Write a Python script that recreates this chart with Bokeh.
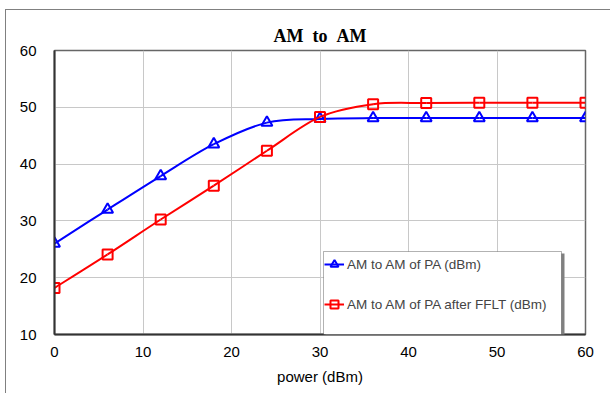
from bokeh.plotting import figure
from bokeh.models import (ColumnDataSource, Legend, LegendItem, BoxAnnotation,
                          FixedTicker, Range1d)
from bokeh.embed import file_html
from bokeh.resources import INLINE

# input power (dBm)
power = [0, 6, 12, 18, 24, 30, 36, 42, 48, 54, 60]
# output power of the PA alone (dBm)
pa_out = [26.0, 32.0, 37.9, 43.5, 47.3, 47.95, 48.1, 48.1, 48.1, 48.1, 48.1]
# output power of the PA after FFLT (dBm)
fflt_out = [18.2, 24.1, 30.25, 36.2, 42.35, 48.3, 50.55, 50.75, 50.8, 50.8, 50.8]

series_names = ["AM to AM of PA (dBm)", "AM to AM of PA after FFLT (dBm)"]
x_ticks = [0, 10, 20, 30, 40, 50, 60]
y_ticks = [10, 20, 30, 40, 50, 60]

FONT = "Liberation Sans"

# the chart area sits inside a thin grey border, offset from the page corner
p = figure(width=605, height=384, output_backend="svg", toolbar_location=None,
           x_range=Range1d(0, 60), y_range=Range1d(10, 60),
           min_border_left=48, min_border_right=26, min_border_top=40,
           min_border_bottom=60)
p.styles = {"margin-left": "5px", "margin-top": "9px",
            "border-left": "1.5px solid #808080",
            "border-top": "1.5px solid #808080"}

p.title.text = "AM\u00a0\u00a0to\u00a0\u00a0AM"
p.title.align = "center"
p.title.text_font = "Liberation Serif"
p.title.text_font_style = "bold"
p.title.text_font_size = "18px"
p.title.text_color = "black"

p.outline_line_color = "#666666"
p.outline_line_width = 1.5

for ax in (p.xaxis[0], p.yaxis[0]):
    ax.axis_line_color = "#333333"
    ax.axis_line_width = 2
    ax.major_tick_in = 0
    ax.major_tick_out = 0
    ax.minor_tick_in = 0
    ax.minor_tick_out = 0
    ax.major_label_text_font = FONT
    ax.major_label_text_font_size = "15px"
    ax.major_label_text_color = "black"

p.xaxis[0].ticker = FixedTicker(ticks=x_ticks)
p.yaxis[0].ticker = FixedTicker(ticks=y_ticks)
p.xaxis[0].major_label_standoff = 12
p.yaxis[0].major_label_standoff = 18
p.xaxis[0].axis_label = "power (dBm)"
p.xaxis[0].axis_label_text_font = FONT
p.xaxis[0].axis_label_text_font_style = "normal"
p.xaxis[0].axis_label_text_font_size = "15px"
p.xaxis[0].axis_label_text_color = "black"
p.xaxis[0].axis_label_standoff = 8

p.xgrid.ticker = FixedTicker(ticks=x_ticks)
p.ygrid.ticker = FixedTicker(ticks=y_ticks)
p.xgrid.grid_line_color = "#c8c8c8"
p.ygrid.grid_line_color = "#c8c8c8"
p.xgrid.grid_line_width = 1
p.ygrid.grid_line_width = 1


def smooth_segments(xs, ys, t=1.0 / 6.0):
    """Cubic Bezier pieces (Catmull-Rom style) passing through every point."""
    n = len(xs)
    seg = dict(x0=[], y0=[], x1=[], y1=[], cx0=[], cy0=[], cx1=[], cy1=[])
    for i in range(n - 1):
        xm, ym = (xs[i - 1], ys[i - 1]) if i > 0 else (xs[i], ys[i])
        xp, yp = (xs[i + 2], ys[i + 2]) if i + 2 < n else (xs[i + 1], ys[i + 1])
        seg["x0"].append(xs[i]); seg["y0"].append(ys[i])
        seg["x1"].append(xs[i + 1]); seg["y1"].append(ys[i + 1])
        seg["cx0"].append(xs[i] + (xs[i + 1] - xm) * t)
        seg["cy0"].append(ys[i] + (ys[i + 1] - ym) * t)
        seg["cx1"].append(xs[i + 1] - (xp - xs[i]) * t)
        seg["cy1"].append(ys[i + 1] - (yp - ys[i]) * t)
    return ColumnDataSource(seg)


# legend frame with drop shadow (canvas pixels)
LX0, LX1, LY0, LY1 = 316, 554, 240, 323
p.add_layout(BoxAnnotation(left=LX0 + 2, right=LX1 + 3, top=LY0 + 2, bottom=LY1 + 3,
                           left_units="canvas", right_units="canvas",
                           top_units="canvas", bottom_units="canvas",
                           fill_color="#808080", fill_alpha=1, line_alpha=0,
                           level="overlay"))
p.add_layout(BoxAnnotation(left=LX0, right=LX1, top=LY0, bottom=LY1,
                           left_units="canvas", right_units="canvas",
                           top_units="canvas", bottom_units="canvas",
                           fill_color="white", fill_alpha=1, line_color="black",
                           line_width=1, level="overlay"))

items = []
for ys, color, marker, name in ((pa_out, "#0000ff", "triangle", series_names[0]),
                                (fflt_out, "#ff0000", "square", series_names[1])):
    curve = p.bezier(x0="x0", y0="y0", x1="x1", y1="y1", cx0="cx0", cy0="cy0",
                     cx1="cx1", cy1="cy1", source=smooth_segments(power, ys),
                     line_color=color, line_width=2)
    pts = p.scatter(power, ys, marker=marker, size=10 if marker == "square" else 11,
                    line_color=color, line_width=2, fill_color=None)
    items.append(LegendItem(label=name, renderers=[curve, pts]))

legend = Legend(items=items, location=(270, 20), orientation="vertical",
                border_line_alpha=0, background_fill_alpha=0,
                label_text_font=FONT, label_text_font_size="13.5px",
                glyph_width=20, glyph_height=20, label_height=20,
                label_standoff=3, spacing=20, padding=0, margin=0)
p.add_layout(legend)

open("out.html", "w").write(file_html(p, INLINE))
